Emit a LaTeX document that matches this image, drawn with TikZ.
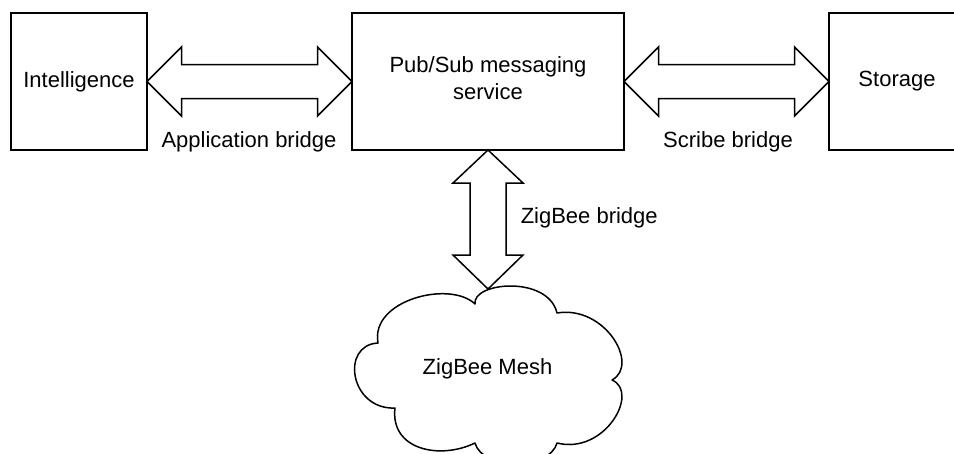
\documentclass[tikz,border=0pt]{standalone}
\usepackage{fontspec}
\setmainfont{Liberation Sans}
\usetikzlibrary{calc}
\newcommand{\dblarrowH}[2]{%
  \draw[bridge] (#1) -- ($(#1)+(34.5,-34.5)$) -- ($(#1)+(34.5,-17)$)
    -- ($(#2)+(-34.5,-17)$) -- ($(#2)+(-34.5,-34.5)$) -- (#2)
    -- ($(#2)+(-34.5,34.5)$) -- ($(#2)+(-34.5,17)$)
    -- ($(#1)+(34.5,17)$) -- ($(#1)+(34.5,34.5)$) -- cycle;}
\newcommand{\dblarrowV}[2]{%
  \draw[bridge] (#1) -- ($(#1)+(35,33)$) -- ($(#1)+(18,33)$)
    -- ($(#2)+(18,-34)$) -- ($(#2)+(35,-34)$) -- (#2)
    -- ($(#2)+(-35,-34)$) -- ($(#2)+(-18,-34)$)
    -- ($(#1)+(-18,33)$) -- ($(#1)+(-35,33)$) -- cycle;}
\begin{document}
\begin{tikzpicture}[x=1pt,y=-1pt,line width=1.5pt,
  box/.style={draw, rectangle, minimum height=137pt, inner sep=0pt, outer sep=0pt,
    font=\fontsize{22}{27}\selectfont, align=center},
  lbl/.style={font=\fontsize{22}{27}\selectfont, inner sep=0pt, align=center},
  bridge/.style={draw, fill=white, line join=miter}]
\clip (0,0) rectangle (954,453);
% boxes
\node[box, minimum width=136pt] (intel) at (79,81.5) {Intelligence};
\node[box, minimum width=272pt] (pubsub) at (488,81.5) {};
\node[lbl] (pubsubtxt) at (488,78.5) {Pub/Sub messaging\\service};
\node[box, minimum width=136pt] (storage) at (897,81.5) {Storage};
% cloud
\draw[line join=round] (475,304) .. controls (472,282) and (548,275) .. (557,313)
  .. controls (605,305) and (640,365) .. (612,380)
  .. controls (640,392) and (605,455) .. (557,443)
  .. controls (550,470) and (482,470) .. (475,443)
  .. controls (440,460) and (390,450) .. (395,408)
  .. controls (350,410) and (340,345) .. (378,343)
  .. controls (370,300) and (450,280) .. (475,304) -- cycle;
\node[lbl] (mesh) at (487.5,369) {ZigBee Mesh};
\coordinate (meshtop) at (488,289);
% bridges
\dblarrowH{intel.east}{pubsub.west}
\dblarrowH{pubsub.east}{storage.west}
\dblarrowV{pubsub.south}{meshtop}
% labels
\node[lbl, anchor=base] (appl) at (249,147) {Application bridge};
\node[lbl, anchor=base] (scribe) at (728,147) {Scribe bridge};
\node[lbl, anchor=base west] (zigl) at (520,223.5) {ZigBee bridge};
\end{tikzpicture}
\end{document}
